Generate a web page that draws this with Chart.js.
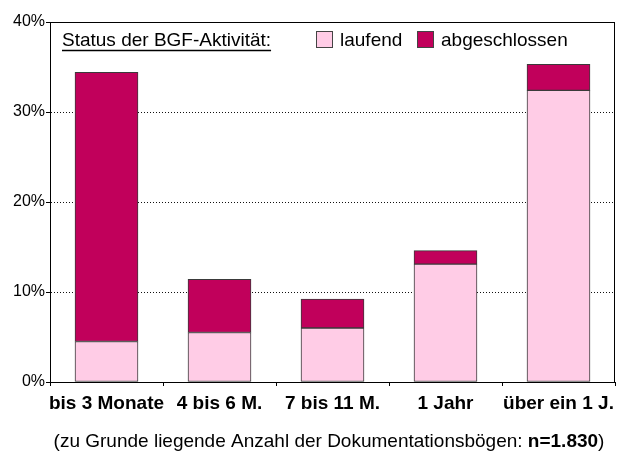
<!DOCTYPE html>
<html>
<head>
<meta charset="utf-8">
<script src="https://cdn.jsdelivr.net/npm/chart.js@4"></script>
<style>
  html, body { margin: 0; padding: 0; background: #fff; }
  #wrap { width: 636px; height: 452px; }
</style>
</head>
<body>
<div id="wrap"><canvas id="chartStatus" width="636" height="452"></canvas></div>
<script>
// Daten
const kategorien = ['bis 3 Monate', '4 bis 6 M.', '7 bis 11 M.', '1 Jahr', 'über ein 1 J.'];
const laufend = [4.5, 5.5, 6.0, 13.1, 32.4];
const abgeschlossen = [29.9, 5.9, 3.2, 1.5, 2.9];
const yTicks = [0, 10, 20, 30, 40];

const FONT = 'Arial, "Liberation Sans", sans-serif';

// Rahmen, Legende und Fußnote
const extras = {
    id: 'extras',
    afterDraw(chart) {
        const ctx = chart.ctx;
        const a = chart.chartArea;
        ctx.save();
        ctx.strokeStyle = '#000';
        ctx.lineWidth = 1;
        ctx.strokeRect(a.left + 0.5, a.top + 0.5, a.right - a.left - 1, a.bottom - a.top);

        // Legende
        ctx.fillStyle = '#000';
        ctx.font = '19px ' + FONT;
        ctx.textBaseline = 'alphabetic';
        ctx.textAlign = 'left';
        const titel = 'Status der BGF-Aktivität:';
        ctx.fillText(titel, 62, 46);
        const tw = ctx.measureText(titel).width;
        ctx.lineWidth = 1.5;
        ctx.beginPath();
        ctx.moveTo(62, 50.5);
        ctx.lineTo(62 + tw, 50.5);
        ctx.stroke();
        ctx.lineWidth = 1;

        const pos = [316, 417];
        chart.data.datasets.forEach((ds, i) => {
            const x = pos[i];
            ctx.fillStyle = ds.backgroundColor;
            ctx.fillRect(x, 31, 17, 17);
            ctx.strokeStyle = '#444';
            ctx.strokeRect(x + 0.5, 31.5, 16, 16);
            ctx.fillStyle = '#000';
            ctx.fillText(ds.label, x + 24, 46);
        });

        // Fußnote
        const t1 = '(zu Grunde liegende Anzahl der Dokumentationsbögen: ';
        const t2 = 'n=1.830';
        const t3 = ')';
        ctx.font = '19px ' + FONT;
        const w1 = ctx.measureText(t1).width;
        const w3 = ctx.measureText(t3).width;
        ctx.font = 'bold 19px ' + FONT;
        const w2 = ctx.measureText(t2).width;
        let x0 = 329 - (w1 + w2 + w3) / 2;
        const y0 = 447;
        ctx.font = '19px ' + FONT;
        ctx.fillText(t1, x0, y0);
        ctx.font = 'bold 19px ' + FONT;
        ctx.fillText(t2, x0 + w1, y0);
        ctx.font = '19px ' + FONT;
        ctx.fillText(t3, x0 + w1 + w2, y0);
        ctx.restore();
    }
};

new Chart(document.getElementById('chartStatus').getContext('2d'), {
    type: 'bar',
    data: {
        labels: kategorien,
        datasets: [{
            label: 'laufend',
            data: laufend,
            backgroundColor: '#ffcce6',
            borderColor: '#3a3a3a',
            borderWidth: 1,
            borderSkipped: false
        }, {
            label: 'abgeschlossen',
            data: abgeschlossen,
            backgroundColor: '#c1005b',
            borderColor: '#3a3a3a',
            borderWidth: 1,
            borderSkipped: false
        }]
    },
    options: {
        responsive: false,
        animation: false,
        layout: { padding: { top: 22, right: 21, bottom: 0, left: 0 } },
        plugins: {
            legend: { display: false },
            tooltip: { enabled: false }
        },
        datasets: {
            bar: { categoryPercentage: 1, barThickness: 63 }
        },
        scales: {
            x: {
                stacked: true,
                offset: true,
                afterFit: (s) => { s.height = 70; },
                grid: {
                    offset: true,
                    drawOnChartArea: false,
                    color: '#000',
                    tickLength: 4
                },
                border: { color: '#000' },
                ticks: {
                    color: '#000',
                    padding: 6,
                    font: { family: FONT, size: 19, weight: 'bold' },
                    maxRotation: 0,
                    autoSkip: false
                }
            },
            y: {
                stacked: true,
                min: 0,
                max: 40,
                afterFit: (s) => { s.width = 50; },
                afterBuildTicks: (s) => { s.ticks = yTicks.map(v => ({ value: v })); },
                grid: {
                    color: (c) => (c.tick && c.tick.value > 0 && c.tick.value < 40) ? '#111' : 'rgba(0,0,0,0)',
                    tickColor: '#000',
                    tickLength: 4,
                    lineWidth: 1
                },
                border: { color: '#000', dash: [1, 2] },
                ticks: {
                    color: '#000',
                    padding: 1,
                    font: { family: FONT, size: 16 },
                    callback: (v) => v + '%'
                }
            }
        }
    },
    plugins: [extras]
});
</script>
</body>
</html>
